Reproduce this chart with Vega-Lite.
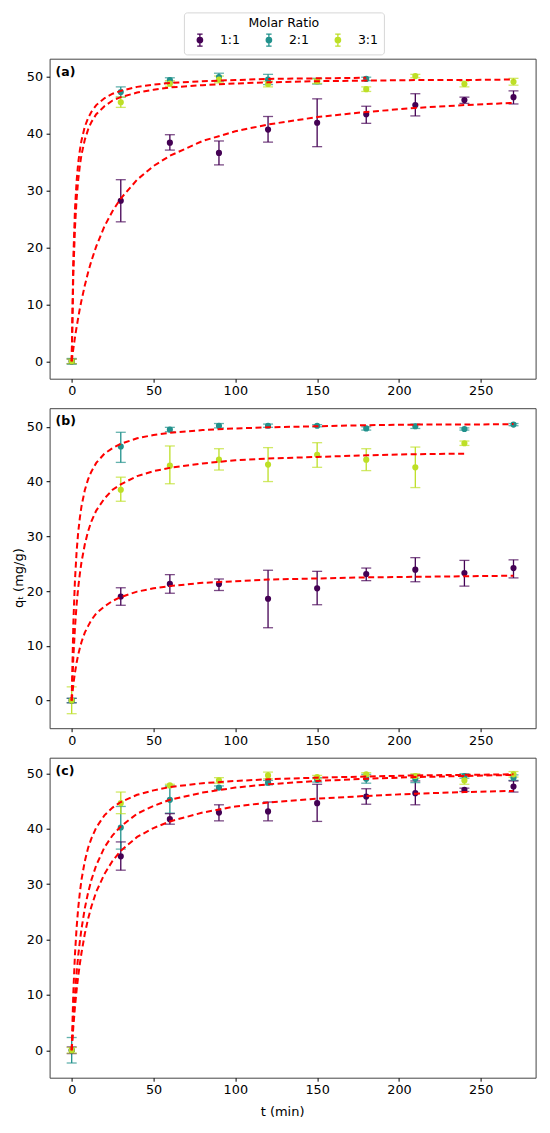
{
  "$schema": "https://vega.github.io/schema/vega-lite/v6.json",
  "background": "white",
  "padding": {"left": 11.6, "top": 11.7, "right": 5, "bottom": 5},
  "config": {
    "font": "DejaVu Sans",
    "view": {"stroke": "#444444", "strokeWidth": 1},
    "axis": {
      "grid": false,
      "domain": false,
      "tickSize": 3.5,
      "tickColor": "black",
      "labelColor": "black",
      "labelFontSize": 12.8,
      "titleFontSize": 13,
      "titleFontWeight": "normal",
      "titleColor": "black"
    },
    "axisX": {"labelPadding": 2.5},
    "axisY": {"labelPadding": 3.5},
    "title": {"fontSize": 12.5, "fontWeight": "bold", "color": "black"}
  },
  "datasets": {
    "pts": [
      {"p": "a", "r": "1:1", "t": 0, "q": 0, "lo": -0.4, "hi": 0.4},
      {"p": "a", "r": "1:1", "t": 30, "q": 28.2, "lo": 24.5, "hi": 31.9},
      {"p": "a", "r": "1:1", "t": 60, "q": 38.4, "lo": 37.1, "hi": 39.8},
      {"p": "a", "r": "1:1", "t": 90, "q": 36.6, "lo": 34.5, "hi": 38.7},
      {"p": "a", "r": "1:1", "t": 120, "q": 40.7, "lo": 38.5, "hi": 43.0},
      {"p": "a", "r": "1:1", "t": 150, "q": 41.9, "lo": 37.7, "hi": 46.1},
      {"p": "a", "r": "1:1", "t": 180, "q": 43.4, "lo": 41.8, "hi": 44.8},
      {"p": "a", "r": "1:1", "t": 210, "q": 45.0, "lo": 43.1, "hi": 47.0},
      {"p": "a", "r": "1:1", "t": 240, "q": 45.9, "lo": 45.3, "hi": 46.4},
      {"p": "a", "r": "1:1", "t": 270, "q": 46.4, "lo": 45.2, "hi": 47.5},
      {"p": "a", "r": "2:1", "t": 0, "q": 0, "lo": -0.5, "hi": 0.5},
      {"p": "a", "r": "2:1", "t": 30, "q": 47.3, "lo": 46.4, "hi": 48.2},
      {"p": "a", "r": "2:1", "t": 60, "q": 49.4, "lo": 49.0, "hi": 49.8},
      {"p": "a", "r": "2:1", "t": 90, "q": 49.9, "lo": 49.2, "hi": 50.6},
      {"p": "a", "r": "2:1", "t": 120, "q": 49.5, "lo": 48.6, "hi": 50.4},
      {"p": "a", "r": "2:1", "t": 150, "q": 49.2, "lo": 48.7, "hi": 49.7},
      {"p": "a", "r": "2:1", "t": 180, "q": 49.6, "lo": 49.3, "hi": 49.9},
      {"p": "a", "r": "3:1", "t": 0, "q": 0, "lo": -0.4, "hi": 0.4},
      {"p": "a", "r": "3:1", "t": 30, "q": 45.5, "lo": 44.6, "hi": 46.4},
      {"p": "a", "r": "3:1", "t": 60, "q": 48.8, "lo": 48.3, "hi": 49.3},
      {"p": "a", "r": "3:1", "t": 90, "q": 49.5, "lo": 48.9, "hi": 50.1},
      {"p": "a", "r": "3:1", "t": 120, "q": 48.7, "lo": 48.2, "hi": 49.2},
      {"p": "a", "r": "3:1", "t": 150, "q": 49.2, "lo": 48.8, "hi": 49.6},
      {"p": "a", "r": "3:1", "t": 180, "q": 47.8, "lo": 47.4, "hi": 48.2},
      {"p": "a", "r": "3:1", "t": 210, "q": 50.1, "lo": 49.8, "hi": 50.4},
      {"p": "a", "r": "3:1", "t": 240, "q": 48.7, "lo": 48.2, "hi": 49.2},
      {"p": "a", "r": "3:1", "t": 270, "q": 49.1, "lo": 48.5, "hi": 49.7},
      {"p": "b", "r": "1:1", "t": 0, "q": 0, "lo": -0.4, "hi": 0.4},
      {"p": "b", "r": "1:1", "t": 30, "q": 19.0, "lo": 17.4, "hi": 20.6},
      {"p": "b", "r": "1:1", "t": 60, "q": 21.3, "lo": 19.6, "hi": 23.0},
      {"p": "b", "r": "1:1", "t": 90, "q": 21.3, "lo": 20.1, "hi": 22.2},
      {"p": "b", "r": "1:1", "t": 120, "q": 18.6, "lo": 13.3, "hi": 23.8},
      {"p": "b", "r": "1:1", "t": 150, "q": 20.5, "lo": 17.5, "hi": 23.6},
      {"p": "b", "r": "1:1", "t": 180, "q": 23.1, "lo": 21.9, "hi": 24.2},
      {"p": "b", "r": "1:1", "t": 210, "q": 23.9, "lo": 21.7, "hi": 26.1},
      {"p": "b", "r": "1:1", "t": 240, "q": 23.3, "lo": 20.9, "hi": 25.6},
      {"p": "b", "r": "1:1", "t": 270, "q": 24.2, "lo": 22.4, "hi": 25.7},
      {"p": "b", "r": "2:1", "t": 0, "q": 0, "lo": -0.4, "hi": 0.4},
      {"p": "b", "r": "2:1", "t": 30, "q": 46.4, "lo": 43.5, "hi": 49.0},
      {"p": "b", "r": "2:1", "t": 60, "q": 49.5, "lo": 49.1, "hi": 49.9},
      {"p": "b", "r": "2:1", "t": 90, "q": 50.2, "lo": 49.8, "hi": 50.6},
      {"p": "b", "r": "2:1", "t": 120, "q": 50.2, "lo": 49.9, "hi": 50.5},
      {"p": "b", "r": "2:1", "t": 150, "q": 50.2, "lo": 50.0, "hi": 50.4},
      {"p": "b", "r": "2:1", "t": 180, "q": 49.7, "lo": 49.4, "hi": 50.0},
      {"p": "b", "r": "2:1", "t": 210, "q": 50.1, "lo": 49.7, "hi": 50.5},
      {"p": "b", "r": "2:1", "t": 240, "q": 49.6, "lo": 49.4, "hi": 49.8},
      {"p": "b", "r": "2:1", "t": 270, "q": 50.4, "lo": 50.2, "hi": 50.6},
      {"p": "b", "r": "3:1", "t": 0, "q": 0, "lo": -2.4, "hi": 2.5},
      {"p": "b", "r": "3:1", "t": 30, "q": 38.5, "lo": 36.4, "hi": 40.8},
      {"p": "b", "r": "3:1", "t": 60, "q": 42.9, "lo": 39.6, "hi": 46.5},
      {"p": "b", "r": "3:1", "t": 90, "q": 44.0, "lo": 42.1, "hi": 46.0},
      {"p": "b", "r": "3:1", "t": 120, "q": 43.1, "lo": 40.0, "hi": 46.2},
      {"p": "b", "r": "3:1", "t": 150, "q": 44.9, "lo": 42.6, "hi": 47.1},
      {"p": "b", "r": "3:1", "t": 180, "q": 44.0, "lo": 42.0, "hi": 46.0},
      {"p": "b", "r": "3:1", "t": 210, "q": 42.6, "lo": 38.9, "hi": 46.3},
      {"p": "b", "r": "3:1", "t": 240, "q": 47.0, "lo": 46.6, "hi": 47.4},
      {"p": "c", "r": "1:1", "t": 0, "q": 0, "lo": -0.6, "hi": 0.6},
      {"p": "c", "r": "1:1", "t": 30, "q": 35.0, "lo": 32.5, "hi": 37.6},
      {"p": "c", "r": "1:1", "t": 60, "q": 41.7, "lo": 40.8, "hi": 42.7},
      {"p": "c", "r": "1:1", "t": 90, "q": 42.9, "lo": 41.4, "hi": 44.3},
      {"p": "c", "r": "1:1", "t": 120, "q": 43.1, "lo": 41.4, "hi": 44.8},
      {"p": "c", "r": "1:1", "t": 150, "q": 44.6, "lo": 41.3, "hi": 48.0},
      {"p": "c", "r": "1:1", "t": 180, "q": 45.8, "lo": 44.4, "hi": 47.2},
      {"p": "c", "r": "1:1", "t": 210, "q": 46.4, "lo": 44.3, "hi": 48.6},
      {"p": "c", "r": "1:1", "t": 240, "q": 47.0, "lo": 46.7, "hi": 47.3},
      {"p": "c", "r": "1:1", "t": 270, "q": 47.6, "lo": 46.6, "hi": 48.6},
      {"p": "c", "r": "2:1", "t": 0, "q": 0, "lo": -2.3, "hi": 2.3},
      {"p": "c", "r": "2:1", "t": 30, "q": 40.2, "lo": 36.3, "hi": 44.0},
      {"p": "c", "r": "2:1", "t": 60, "q": 45.2, "lo": 42.8, "hi": 47.7},
      {"p": "c", "r": "2:1", "t": 90, "q": 47.4, "lo": 47.1, "hi": 47.7},
      {"p": "c", "r": "2:1", "t": 120, "q": 48.3, "lo": 47.9, "hi": 48.7},
      {"p": "c", "r": "2:1", "t": 150, "q": 48.8, "lo": 48.4, "hi": 49.2},
      {"p": "c", "r": "2:1", "t": 180, "q": 49.0, "lo": 48.2, "hi": 49.8},
      {"p": "c", "r": "2:1", "t": 210, "q": 49.0, "lo": 48.3, "hi": 49.7},
      {"p": "c", "r": "2:1", "t": 240, "q": 49.5, "lo": 49.1, "hi": 49.9},
      {"p": "c", "r": "2:1", "t": 270, "q": 49.2, "lo": 48.7, "hi": 49.7},
      {"p": "c", "r": "3:1", "t": 0, "q": 0, "lo": -0.5, "hi": 0.5},
      {"p": "c", "r": "3:1", "t": 30, "q": 44.6, "lo": 42.7, "hi": 46.6},
      {"p": "c", "r": "3:1", "t": 60, "q": 47.8, "lo": 47.6, "hi": 48.0},
      {"p": "c", "r": "3:1", "t": 90, "q": 48.7, "lo": 48.2, "hi": 49.2},
      {"p": "c", "r": "3:1", "t": 120, "q": 49.6, "lo": 49.0, "hi": 50.2},
      {"p": "c", "r": "3:1", "t": 150, "q": 49.3, "lo": 49.0, "hi": 49.6},
      {"p": "c", "r": "3:1", "t": 180, "q": 49.8, "lo": 49.5, "hi": 50.1},
      {"p": "c", "r": "3:1", "t": 210, "q": 49.5, "lo": 49.1, "hi": 49.9},
      {"p": "c", "r": "3:1", "t": 240, "q": 48.7, "lo": 48.0, "hi": 49.4},
      {"p": "c", "r": "3:1", "t": 270, "q": 49.8, "lo": 49.3, "hi": 50.3}
    ],
    "fit": [
      {"p": "a", "r": "1:1", "t": 0, "f": 0}, {"p": "a", "r": "1:1", "t": 1, "f": 2.2}, {"p": "a", "r": "1:1", "t": 2, "f": 4.2}, {"p": "a", "r": "1:1", "t": 3, "f": 6.0}, {"p": "a", "r": "1:1", "t": 4, "f": 7.7}, {"p": "a", "r": "1:1", "t": 5, "f": 9.3}, {"p": "a", "r": "1:1", "t": 6, "f": 10.7}, {"p": "a", "r": "1:1", "t": 8, "f": 13.3}, {"p": "a", "r": "1:1", "t": 10, "f": 15.6}, {"p": "a", "r": "1:1", "t": 12, "f": 17.6}, {"p": "a", "r": "1:1", "t": 15, "f": 20.2}, {"p": "a", "r": "1:1", "t": 20, "f": 23.7}, {"p": "a", "r": "1:1", "t": 25, "f": 26.4}, {"p": "a", "r": "1:1", "t": 30, "f": 28.6}, {"p": "a", "r": "1:1", "t": 40, "f": 31.9}, {"p": "a", "r": "1:1", "t": 50, "f": 34.3}, {"p": "a", "r": "1:1", "t": 60, "f": 36.1}, {"p": "a", "r": "1:1", "t": 80, "f": 38.7}, {"p": "a", "r": "1:1", "t": 100, "f": 40.4}, {"p": "a", "r": "1:1", "t": 120, "f": 41.6}, {"p": "a", "r": "1:1", "t": 150, "f": 42.9}, {"p": "a", "r": "1:1", "t": 180, "f": 43.8}, {"p": "a", "r": "1:1", "t": 210, "f": 44.5}, {"p": "a", "r": "1:1", "t": 240, "f": 45.0}, {"p": "a", "r": "1:1", "t": 270, "f": 45.4},
      {"p": "a", "r": "2:1", "t": 0, "f": 0}, {"p": "a", "r": "2:1", "t": 1, "f": 18.1}, {"p": "a", "r": "2:1", "t": 2, "f": 26.7}, {"p": "a", "r": "2:1", "t": 3, "f": 31.6}, {"p": "a", "r": "2:1", "t": 4, "f": 34.9}, {"p": "a", "r": "2:1", "t": 5, "f": 37.1}, {"p": "a", "r": "2:1", "t": 6, "f": 38.8}, {"p": "a", "r": "2:1", "t": 8, "f": 41.2}, {"p": "a", "r": "2:1", "t": 10, "f": 42.7}, {"p": "a", "r": "2:1", "t": 12, "f": 43.8}, {"p": "a", "r": "2:1", "t": 15, "f": 45.0}, {"p": "a", "r": "2:1", "t": 20, "f": 46.2}, {"p": "a", "r": "2:1", "t": 25, "f": 47.0}, {"p": "a", "r": "2:1", "t": 30, "f": 47.5}, {"p": "a", "r": "2:1", "t": 40, "f": 48.2}, {"p": "a", "r": "2:1", "t": 50, "f": 48.6}, {"p": "a", "r": "2:1", "t": 60, "f": 48.9}, {"p": "a", "r": "2:1", "t": 80, "f": 49.2}, {"p": "a", "r": "2:1", "t": 100, "f": 49.4}, {"p": "a", "r": "2:1", "t": 120, "f": 49.6}, {"p": "a", "r": "2:1", "t": 150, "f": 49.7}, {"p": "a", "r": "2:1", "t": 180, "f": 49.8},
      {"p": "a", "r": "3:1", "t": 0, "f": 0}, {"p": "a", "r": "3:1", "t": 1, "f": 15.3}, {"p": "a", "r": "3:1", "t": 2, "f": 23.4}, {"p": "a", "r": "3:1", "t": 3, "f": 28.5}, {"p": "a", "r": "3:1", "t": 4, "f": 31.9}, {"p": "a", "r": "3:1", "t": 5, "f": 34.4}, {"p": "a", "r": "3:1", "t": 6, "f": 36.3}, {"p": "a", "r": "3:1", "t": 8, "f": 38.9}, {"p": "a", "r": "3:1", "t": 10, "f": 40.7}, {"p": "a", "r": "3:1", "t": 12, "f": 42.0}, {"p": "a", "r": "3:1", "t": 15, "f": 43.4}, {"p": "a", "r": "3:1", "t": 20, "f": 44.8}, {"p": "a", "r": "3:1", "t": 25, "f": 45.8}, {"p": "a", "r": "3:1", "t": 30, "f": 46.4}, {"p": "a", "r": "3:1", "t": 40, "f": 47.2}, {"p": "a", "r": "3:1", "t": 50, "f": 47.7}, {"p": "a", "r": "3:1", "t": 60, "f": 48.1}, {"p": "a", "r": "3:1", "t": 80, "f": 48.5}, {"p": "a", "r": "3:1", "t": 100, "f": 48.8}, {"p": "a", "r": "3:1", "t": 120, "f": 49.0}, {"p": "a", "r": "3:1", "t": 150, "f": 49.2}, {"p": "a", "r": "3:1", "t": 180, "f": 49.3}, {"p": "a", "r": "3:1", "t": 210, "f": 49.4}, {"p": "a", "r": "3:1", "t": 240, "f": 49.4}, {"p": "a", "r": "3:1", "t": 270, "f": 49.5},
      {"p": "b", "r": "1:1", "t": 0, "f": 0}, {"p": "b", "r": "1:1", "t": 1, "f": 2.9}, {"p": "b", "r": "1:1", "t": 2, "f": 5.1}, {"p": "b", "r": "1:1", "t": 3, "f": 6.9}, {"p": "b", "r": "1:1", "t": 4, "f": 8.4}, {"p": "b", "r": "1:1", "t": 5, "f": 9.6}, {"p": "b", "r": "1:1", "t": 6, "f": 10.7}, {"p": "b", "r": "1:1", "t": 8, "f": 12.4}, {"p": "b", "r": "1:1", "t": 10, "f": 13.6}, {"p": "b", "r": "1:1", "t": 12, "f": 14.7}, {"p": "b", "r": "1:1", "t": 15, "f": 15.9}, {"p": "b", "r": "1:1", "t": 20, "f": 17.2}, {"p": "b", "r": "1:1", "t": 25, "f": 18.2}, {"p": "b", "r": "1:1", "t": 30, "f": 18.9}, {"p": "b", "r": "1:1", "t": 40, "f": 19.9}, {"p": "b", "r": "1:1", "t": 50, "f": 20.5}, {"p": "b", "r": "1:1", "t": 60, "f": 20.9}, {"p": "b", "r": "1:1", "t": 80, "f": 21.5}, {"p": "b", "r": "1:1", "t": 100, "f": 21.8}, {"p": "b", "r": "1:1", "t": 120, "f": 22.1}, {"p": "b", "r": "1:1", "t": 150, "f": 22.3}, {"p": "b", "r": "1:1", "t": 180, "f": 22.5}, {"p": "b", "r": "1:1", "t": 210, "f": 22.6}, {"p": "b", "r": "1:1", "t": 240, "f": 22.7}, {"p": "b", "r": "1:1", "t": 270, "f": 22.8},
      {"p": "b", "r": "2:1", "t": 0, "f": 0}, {"p": "b", "r": "2:1", "t": 1, "f": 14.0}, {"p": "b", "r": "2:1", "t": 2, "f": 22.0}, {"p": "b", "r": "2:1", "t": 3, "f": 27.2}, {"p": "b", "r": "2:1", "t": 4, "f": 30.8}, {"p": "b", "r": "2:1", "t": 5, "f": 33.4}, {"p": "b", "r": "2:1", "t": 6, "f": 35.5}, {"p": "b", "r": "2:1", "t": 8, "f": 38.4}, {"p": "b", "r": "2:1", "t": 10, "f": 40.4}, {"p": "b", "r": "2:1", "t": 12, "f": 41.8}, {"p": "b", "r": "2:1", "t": 15, "f": 43.4}, {"p": "b", "r": "2:1", "t": 20, "f": 45.1}, {"p": "b", "r": "2:1", "t": 25, "f": 46.1}, {"p": "b", "r": "2:1", "t": 30, "f": 46.9}, {"p": "b", "r": "2:1", "t": 40, "f": 47.9}, {"p": "b", "r": "2:1", "t": 50, "f": 48.5}, {"p": "b", "r": "2:1", "t": 60, "f": 48.9}, {"p": "b", "r": "2:1", "t": 80, "f": 49.4}, {"p": "b", "r": "2:1", "t": 100, "f": 49.7}, {"p": "b", "r": "2:1", "t": 120, "f": 49.9}, {"p": "b", "r": "2:1", "t": 150, "f": 50.1}, {"p": "b", "r": "2:1", "t": 180, "f": 50.3}, {"p": "b", "r": "2:1", "t": 210, "f": 50.4}, {"p": "b", "r": "2:1", "t": 240, "f": 50.4}, {"p": "b", "r": "2:1", "t": 270, "f": 50.5},
      {"p": "b", "r": "3:1", "t": 0, "f": 0}, {"p": "b", "r": "3:1", "t": 1, "f": 7.8}, {"p": "b", "r": "3:1", "t": 2, "f": 13.3}, {"p": "b", "r": "3:1", "t": 3, "f": 17.5}, {"p": "b", "r": "3:1", "t": 4, "f": 20.7}, {"p": "b", "r": "3:1", "t": 5, "f": 23.2}, {"p": "b", "r": "3:1", "t": 6, "f": 25.3}, {"p": "b", "r": "3:1", "t": 8, "f": 28.5}, {"p": "b", "r": "3:1", "t": 10, "f": 30.9}, {"p": "b", "r": "3:1", "t": 12, "f": 32.7}, {"p": "b", "r": "3:1", "t": 15, "f": 34.7}, {"p": "b", "r": "3:1", "t": 20, "f": 36.9}, {"p": "b", "r": "3:1", "t": 25, "f": 38.5}, {"p": "b", "r": "3:1", "t": 30, "f": 39.5}, {"p": "b", "r": "3:1", "t": 40, "f": 41.0}, {"p": "b", "r": "3:1", "t": 50, "f": 41.9}, {"p": "b", "r": "3:1", "t": 60, "f": 42.5}, {"p": "b", "r": "3:1", "t": 80, "f": 43.3}, {"p": "b", "r": "3:1", "t": 100, "f": 43.9}, {"p": "b", "r": "3:1", "t": 120, "f": 44.2}, {"p": "b", "r": "3:1", "t": 150, "f": 44.5}, {"p": "b", "r": "3:1", "t": 180, "f": 44.8}, {"p": "b", "r": "3:1", "t": 210, "f": 45.0}, {"p": "b", "r": "3:1", "t": 240, "f": 45.1},
      {"p": "c", "r": "1:1", "t": 0, "f": 0}, {"p": "c", "r": "1:1", "t": 1, "f": 4.2}, {"p": "c", "r": "1:1", "t": 2, "f": 7.8}, {"p": "c", "r": "1:1", "t": 3, "f": 10.8}, {"p": "c", "r": "1:1", "t": 4, "f": 13.4}, {"p": "c", "r": "1:1", "t": 5, "f": 15.6}, {"p": "c", "r": "1:1", "t": 6, "f": 17.6}, {"p": "c", "r": "1:1", "t": 8, "f": 21.0}, {"p": "c", "r": "1:1", "t": 10, "f": 23.7}, {"p": "c", "r": "1:1", "t": 12, "f": 25.9}, {"p": "c", "r": "1:1", "t": 15, "f": 28.6}, {"p": "c", "r": "1:1", "t": 20, "f": 31.8}, {"p": "c", "r": "1:1", "t": 25, "f": 34.2}, {"p": "c", "r": "1:1", "t": 30, "f": 36.0}, {"p": "c", "r": "1:1", "t": 40, "f": 38.5}, {"p": "c", "r": "1:1", "t": 50, "f": 40.1}, {"p": "c", "r": "1:1", "t": 60, "f": 41.3}, {"p": "c", "r": "1:1", "t": 80, "f": 42.9}, {"p": "c", "r": "1:1", "t": 100, "f": 44.0}, {"p": "c", "r": "1:1", "t": 120, "f": 44.7}, {"p": "c", "r": "1:1", "t": 150, "f": 45.4}, {"p": "c", "r": "1:1", "t": 180, "f": 45.9}, {"p": "c", "r": "1:1", "t": 210, "f": 46.3}, {"p": "c", "r": "1:1", "t": 240, "f": 46.6}, {"p": "c", "r": "1:1", "t": 270, "f": 46.8},
      {"p": "c", "r": "2:1", "t": 0, "f": 0}, {"p": "c", "r": "2:1", "t": 1, "f": 5.7}, {"p": "c", "r": "2:1", "t": 2, "f": 10.2}, {"p": "c", "r": "2:1", "t": 3, "f": 14.0}, {"p": "c", "r": "2:1", "t": 4, "f": 17.1}, {"p": "c", "r": "2:1", "t": 5, "f": 19.7}, {"p": "c", "r": "2:1", "t": 6, "f": 21.9}, {"p": "c", "r": "2:1", "t": 8, "f": 25.6}, {"p": "c", "r": "2:1", "t": 10, "f": 28.4}, {"p": "c", "r": "2:1", "t": 12, "f": 30.7}, {"p": "c", "r": "2:1", "t": 15, "f": 33.4}, {"p": "c", "r": "2:1", "t": 20, "f": 36.6}, {"p": "c", "r": "2:1", "t": 25, "f": 38.8}, {"p": "c", "r": "2:1", "t": 30, "f": 40.4}, {"p": "c", "r": "2:1", "t": 40, "f": 42.7}, {"p": "c", "r": "2:1", "t": 50, "f": 44.1}, {"p": "c", "r": "2:1", "t": 60, "f": 45.2}, {"p": "c", "r": "2:1", "t": 80, "f": 46.5}, {"p": "c", "r": "2:1", "t": 100, "f": 47.4}, {"p": "c", "r": "2:1", "t": 120, "f": 48.0}, {"p": "c", "r": "2:1", "t": 150, "f": 48.6}, {"p": "c", "r": "2:1", "t": 180, "f": 49.0}, {"p": "c", "r": "2:1", "t": 210, "f": 49.3}, {"p": "c", "r": "2:1", "t": 240, "f": 49.5}, {"p": "c", "r": "2:1", "t": 270, "f": 49.7},
      {"p": "c", "r": "3:1", "t": 0, "f": 0}, {"p": "c", "r": "3:1", "t": 1, "f": 10.4}, {"p": "c", "r": "3:1", "t": 2, "f": 17.3}, {"p": "c", "r": "3:1", "t": 3, "f": 22.1}, {"p": "c", "r": "3:1", "t": 4, "f": 25.7}, {"p": "c", "r": "3:1", "t": 5, "f": 28.5}, {"p": "c", "r": "3:1", "t": 6, "f": 30.8}, {"p": "c", "r": "3:1", "t": 8, "f": 34.1}, {"p": "c", "r": "3:1", "t": 10, "f": 36.5}, {"p": "c", "r": "3:1", "t": 12, "f": 38.2}, {"p": "c", "r": "3:1", "t": 15, "f": 40.2}, {"p": "c", "r": "3:1", "t": 20, "f": 42.4}, {"p": "c", "r": "3:1", "t": 25, "f": 43.8}, {"p": "c", "r": "3:1", "t": 30, "f": 44.8}, {"p": "c", "r": "3:1", "t": 40, "f": 46.1}, {"p": "c", "r": "3:1", "t": 50, "f": 46.9}, {"p": "c", "r": "3:1", "t": 60, "f": 47.5}, {"p": "c", "r": "3:1", "t": 80, "f": 48.2}, {"p": "c", "r": "3:1", "t": 100, "f": 48.6}, {"p": "c", "r": "3:1", "t": 120, "f": 48.9}, {"p": "c", "r": "3:1", "t": 150, "f": 49.2}, {"p": "c", "r": "3:1", "t": 180, "f": 49.4}, {"p": "c", "r": "3:1", "t": 210, "f": 49.6}, {"p": "c", "r": "3:1", "t": 240, "f": 49.7}, {"p": "c", "r": "3:1", "t": 270, "f": 49.8}
    ]
  },
  "bounds": "flush",
  "spacing": 29.5,
  "vconcat": [
    {
      "width": 486,
      "height": 320,
      "title": {"text": "(a)", "anchor": "start", "frame": "group", "orient": "top", "offset": -29.4, "dx": 6, "baseline": "alphabetic"},
      "layer": [
        {
          "data": {"name": "pts"},
          "transform": [{"filter": "datum.p == 'a'"}],
          "mark": {"type": "rule", "strokeWidth": 1.3},
          "encoding": {
            "x": {"field": "t", "type": "quantitative", "scale": {"domain": [-13.5, 283.5], "nice": false, "zero": false}, "axis": {"values": [0, 50, 100, 150, 200, 250], "title": null}},
            "y": {"field": "lo", "type": "quantitative", "scale": {"domain": [-3.05, 53.15], "nice": false, "zero": false}, "axis": {"values": [0, 10, 20, 30, 40, 50], "title": null}},
            "y2": {"field": "hi"},
            "color": {"field": "r", "type": "nominal", "scale": {"domain": ["1:1", "2:1", "3:1"], "range": ["#440154", "#21918c", "#bddf26"]}}
          }
        },
        {
          "data": {"name": "pts"},
          "transform": [{"filter": "datum.p == 'a'"}],
          "mark": {"type": "tick", "orient": "horizontal", "size": 10, "thickness": 1.3},
          "encoding": {
            "x": {"field": "t", "type": "quantitative"},
            "y": {"field": "lo", "type": "quantitative"},
            "color": {"field": "r", "type": "nominal"}
          }
        },
        {
          "data": {"name": "pts"},
          "transform": [{"filter": "datum.p == 'a'"}],
          "mark": {"type": "tick", "orient": "horizontal", "size": 10, "thickness": 1.3},
          "encoding": {
            "x": {"field": "t", "type": "quantitative"},
            "y": {"field": "hi", "type": "quantitative"},
            "color": {"field": "r", "type": "nominal"}
          }
        },
        {
          "data": {"name": "pts"},
          "transform": [{"filter": "datum.p == 'a'"}],
          "mark": {"type": "point", "filled": true, "size": 38, "opacity": 1},
          "encoding": {
            "x": {"field": "t", "type": "quantitative"},
            "y": {"field": "q", "type": "quantitative"},
            "color": {
              "field": "r",
              "type": "nominal",
              "legend": {
                "title": "Molar Ratio",
                "orient": "none",
                "legendX": 134.3,
                "legendY": -46.3,
                "direction": "horizontal",
                "titleAnchor": "middle",
                "titleAlign": "center",
                "titleFontSize": 12.5,
                "titleFontWeight": "normal",
                "titleColor": "black",
                "titlePadding": 3,
                "labelFontSize": 12.5,
                "labelColor": "black",
                "labelOffset": 13,
                "columnPadding": 17,
                "padding": 5,
                "symbolOffset": 4,
                "strokeColor": "#d6d6d6",
                "fillColor": "white",
                "cornerRadius": 3,
                "symbolSize": 144,
                "symbolOpacity": 1,
                "symbolStrokeWidth": 1.3,
                "symbolType": "M-0.45,-1H0.45M0,-1V1M-0.45,1H0.45M0.45,0A0.45,0.45,0,1,1,-0.45,0A0.45,0.45,0,1,1,0.45,0Z",
                "encode": {
                  "symbols": {
                    "update": {
                      "fill": {"scale": "color", "field": "value"},
                      "stroke": {"scale": "color", "field": "value"},
                      "strokeWidth": {"value": 1.3},
                      "opacity": {"value": 1},
                      "fillOpacity": {"value": 1},
                      "strokeOpacity": {"value": 1}
                    }
                  }
                }
              }
            }
          }
        },
        {
          "data": {"name": "fit"},
          "transform": [{"filter": "datum.p == 'a'"}],
          "mark": {"type": "line", "color": "#ff0000", "strokeWidth": 2, "strokeDash": [6, 3.5]},
          "encoding": {
            "x": {"field": "t", "type": "quantitative"},
            "y": {"field": "f", "type": "quantitative"},
            "detail": {"field": "r"}
          }
        }
      ]
    },
    {
      "width": 486,
      "height": 320,
      "title": {"text": "(b)", "anchor": "start", "frame": "group", "orient": "top", "offset": -29.4, "dx": 6, "baseline": "alphabetic"},
      "layer": [
        {
          "data": {"name": "pts"},
          "transform": [{"filter": "datum.p == 'b'"}],
          "mark": {"type": "rule", "strokeWidth": 1.3},
          "encoding": {
            "x": {"field": "t", "type": "quantitative", "scale": {"domain": [-13.5, 283.5], "nice": false, "zero": false}, "axis": {"values": [0, 50, 100, 150, 200, 250], "title": null}},
            "y": {"field": "lo", "type": "quantitative", "scale": {"domain": [-5.05, 53.4], "nice": false, "zero": false}, "axis": {"values": [0, 10, 20, 30, 40, 50], "title": "qₜ (mg/g)", "titleX": -24.5, "titleY": 169.5}},
            "y2": {"field": "hi"},
            "color": {"field": "r", "type": "nominal"}
          }
        },
        {
          "data": {"name": "pts"},
          "transform": [{"filter": "datum.p == 'b'"}],
          "mark": {"type": "tick", "orient": "horizontal", "size": 10, "thickness": 1.3},
          "encoding": {
            "x": {"field": "t", "type": "quantitative"},
            "y": {"field": "lo", "type": "quantitative"},
            "color": {"field": "r", "type": "nominal"}
          }
        },
        {
          "data": {"name": "pts"},
          "transform": [{"filter": "datum.p == 'b'"}],
          "mark": {"type": "tick", "orient": "horizontal", "size": 10, "thickness": 1.3},
          "encoding": {
            "x": {"field": "t", "type": "quantitative"},
            "y": {"field": "hi", "type": "quantitative"},
            "color": {"field": "r", "type": "nominal"}
          }
        },
        {
          "data": {"name": "pts"},
          "transform": [{"filter": "datum.p == 'b'"}],
          "mark": {"type": "point", "filled": true, "size": 38, "opacity": 1},
          "encoding": {
            "x": {"field": "t", "type": "quantitative"},
            "y": {"field": "q", "type": "quantitative"},
            "color": {"field": "r", "type": "nominal"}
          }
        },
        {
          "data": {"name": "fit"},
          "transform": [{"filter": "datum.p == 'b'"}],
          "mark": {"type": "line", "color": "#ff0000", "strokeWidth": 2, "strokeDash": [6, 3.5]},
          "encoding": {
            "x": {"field": "t", "type": "quantitative"},
            "y": {"field": "f", "type": "quantitative"},
            "detail": {"field": "r"}
          }
        }
      ]
    },
    {
      "width": 486,
      "height": 320,
      "title": {"text": "(c)", "anchor": "start", "frame": "group", "orient": "top", "offset": -29.4, "dx": 6, "baseline": "alphabetic"},
      "layer": [
        {
          "data": {"name": "pts"},
          "transform": [{"filter": "datum.p == 'c'"}],
          "mark": {"type": "rule", "strokeWidth": 1.3},
          "encoding": {
            "x": {"field": "t", "type": "quantitative", "scale": {"domain": [-13.5, 283.5], "nice": false, "zero": false}, "axis": {"values": [0, 50, 100, 150, 200, 250], "title": "t (min)", "titleX": 232.5, "titlePadding": 9}},
            "y": {"field": "lo", "type": "quantitative", "scale": {"domain": [-4.95, 52.8], "nice": false, "zero": false}, "axis": {"values": [0, 10, 20, 30, 40, 50], "title": null}},
            "y2": {"field": "hi"},
            "color": {"field": "r", "type": "nominal"}
          }
        },
        {
          "data": {"name": "pts"},
          "transform": [{"filter": "datum.p == 'c'"}],
          "mark": {"type": "tick", "orient": "horizontal", "size": 10, "thickness": 1.3},
          "encoding": {
            "x": {"field": "t", "type": "quantitative"},
            "y": {"field": "lo", "type": "quantitative"},
            "color": {"field": "r", "type": "nominal"}
          }
        },
        {
          "data": {"name": "pts"},
          "transform": [{"filter": "datum.p == 'c'"}],
          "mark": {"type": "tick", "orient": "horizontal", "size": 10, "thickness": 1.3},
          "encoding": {
            "x": {"field": "t", "type": "quantitative"},
            "y": {"field": "hi", "type": "quantitative"},
            "color": {"field": "r", "type": "nominal"}
          }
        },
        {
          "data": {"name": "pts"},
          "transform": [{"filter": "datum.p == 'c'"}],
          "mark": {"type": "point", "filled": true, "size": 38, "opacity": 1},
          "encoding": {
            "x": {"field": "t", "type": "quantitative"},
            "y": {"field": "q", "type": "quantitative"},
            "color": {"field": "r", "type": "nominal"}
          }
        },
        {
          "data": {"name": "fit"},
          "transform": [{"filter": "datum.p == 'c'"}],
          "mark": {"type": "line", "color": "#ff0000", "strokeWidth": 2, "strokeDash": [6, 3.5]},
          "encoding": {
            "x": {"field": "t", "type": "quantitative"},
            "y": {"field": "f", "type": "quantitative"},
            "detail": {"field": "r"}
          }
        }
      ]
    }
  ]
}
